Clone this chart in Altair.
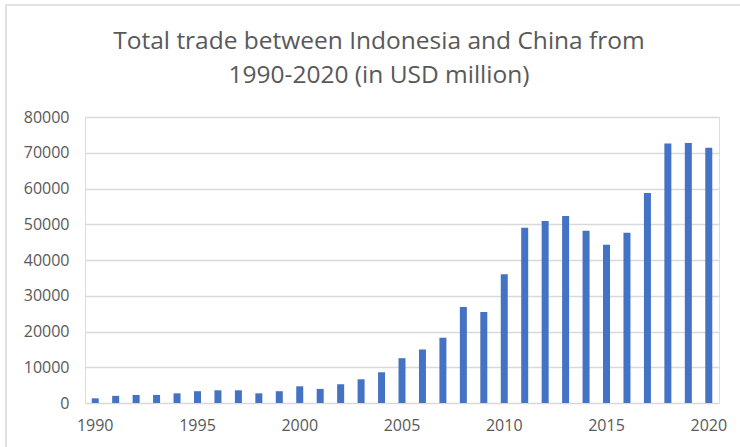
import altair as alt
import pandas as pd

years = list(range(1990, 2021))
trade = [1300, 2000, 2250, 2250, 2700, 3300, 3550, 3550, 2700, 3300,
         4670, 3940, 5220, 6630, 8600, 12530, 14970, 18260, 26850, 25450,
         36040, 49050, 50930, 52330, 48200, 44270, 47640, 58710, 72560, 72750, 71430]

df = pd.DataFrame({"year": years, "trade": trade})

bars = alt.Chart(df).mark_bar(color="#4472C4", size=7).encode(
    x=alt.X("year:O", title=None,
            scale=alt.Scale(paddingInner=0, paddingOuter=0),
            axis=alt.Axis(labelAngle=0, ticks=False, domain=False,
                          labelExpr="datum.value % 5 == 0 ? datum.label : ''",
                          labelFont="Open Sans", labelFontSize=16, labelColor="#595959",
                          labelPadding=14)),
    y=alt.Y("trade:Q", title=None,
            scale=alt.Scale(domain=[0, 80000]),
            axis=alt.Axis(values=list(range(0, 80001, 10000)), ticks=False, domain=False,
                          gridColor="#d9d9d9", gridWidth=1.3,
                          labelFont="Open Sans", labelFontSize=16, labelColor="#595959",
                          labelPadding=16, format="d")),
)

border = alt.Chart(alt.Data(values=[{}])).mark_rect(
    fill=None, stroke="#d9d9d9", strokeWidth=1.5
).encode(
    x=alt.value(-79), y=alt.value(-112), x2=alt.value(800), y2=alt.value(500)
)

chart = alt.layer(border, bars).properties(
    width=634, height=286,
    padding={"left": 85, "top": 117, "right": 21, "bottom": 44},
    autosize=alt.AutoSizeParams(type="none"),
    title=alt.TitleParams(
        text=["Total trade between Indonesia and China from", "1990-2020 (in USD million)"],
        font="Open Sans", fontSize=24.5, fontWeight="normal", color="#595959",
        anchor="middle", frame="group", offset=-84, lineHeight=34, dx=-23,
    ),
).configure_view(stroke=None).configure(background="white")

chart.save("out.html", embed_options={"renderer": "svg", "actions": False})
